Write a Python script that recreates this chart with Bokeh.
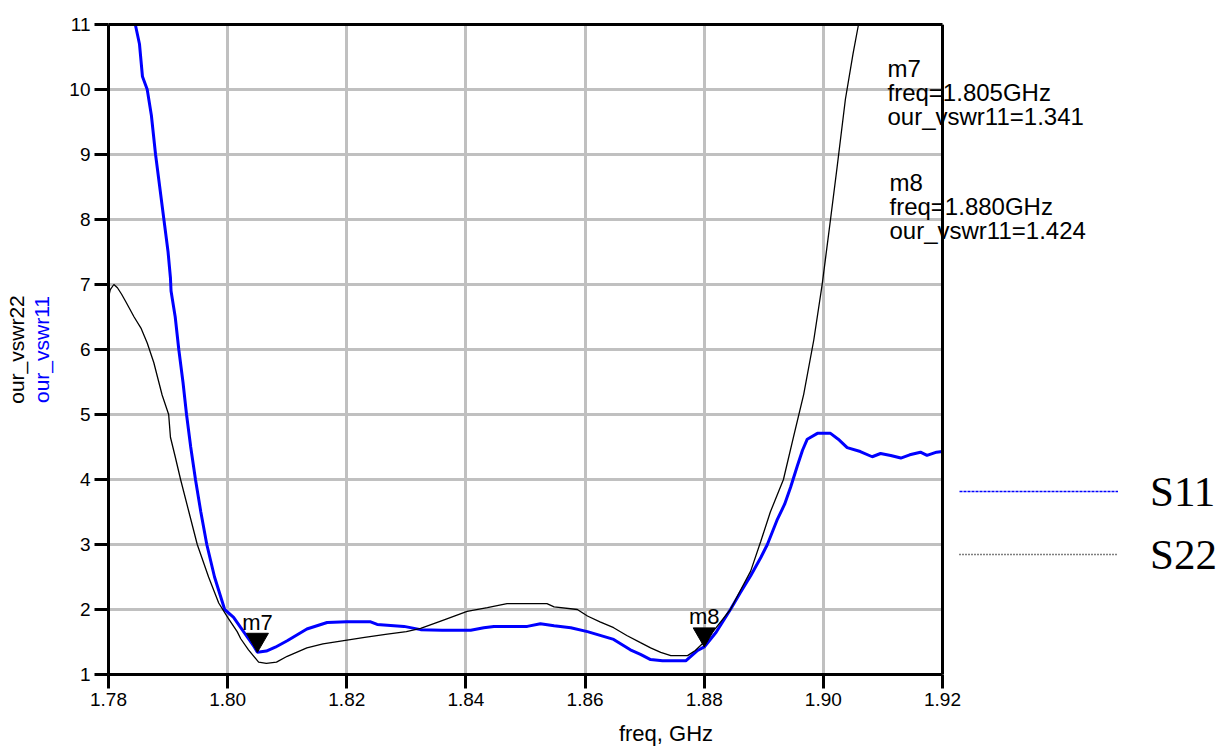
import math
from bokeh.plotting import figure
from bokeh.models import (Range1d, FixedTicker, CustomJSTickFormatter, Label,
                          Legend, LegendItem, LinearAxis, Span)
from bokeh.embed import file_html
from bokeh.resources import INLINE

# ---------------- data ----------------
freq_s11 = [1.7800, 1.7820, 1.7845, 1.7852, 1.7857, 1.7865, 1.7872, 1.7879, 1.7886,
            1.7893, 1.7900, 1.7904, 1.7905, 1.7912, 1.7918, 1.7925, 1.7931, 1.7938,
            1.7946, 1.7955, 1.7965, 1.7978, 1.7995, 1.8010, 1.8022, 1.8035, 1.8045,
            1.8050, 1.8065, 1.8080, 1.8100, 1.8133, 1.8167, 1.8200, 1.8240, 1.8251,
            1.8296, 1.8324, 1.8360, 1.8408, 1.8430, 1.8447, 1.8503, 1.8525, 1.8548,
            1.8576, 1.8604, 1.8648, 1.8676, 1.8693, 1.8710, 1.8730, 1.8769, 1.8789,
            1.8800, 1.8820, 1.8844, 1.8860, 1.8878, 1.8895, 1.8906, 1.8922, 1.8935,
            1.8945, 1.8956, 1.8965, 1.8973, 1.8990, 1.9012, 1.9025, 1.9040, 1.9062,
            1.9082, 1.9096, 1.9113, 1.9130, 1.9145, 1.9163, 1.9174, 1.9190, 1.9200]
vswr11 = [13.3, 12.2, 11.0, 10.7, 10.2, 10.0, 9.6, 9.0, 8.5,
          8.0, 7.5, 7.1, 6.9, 6.5, 6.0, 5.5, 5.0, 4.5,
          4.0, 3.5, 3.0, 2.5, 2.0, 1.88, 1.72, 1.55, 1.42,
          1.341, 1.36, 1.42, 1.52, 1.70, 1.80, 1.81, 1.81, 1.77,
          1.74, 1.69, 1.68, 1.68, 1.72, 1.74, 1.74, 1.78, 1.75,
          1.72, 1.66, 1.54, 1.38, 1.31, 1.23, 1.21, 1.21, 1.37,
          1.424, 1.65, 2.0, 2.25, 2.52, 2.8, 3.0, 3.37, 3.62,
          3.88, 4.2, 4.45, 4.62, 4.71, 4.71, 4.62, 4.49, 4.43,
          4.35, 4.40, 4.37, 4.33, 4.38, 4.42, 4.37, 4.42, 4.43]

freq_s22 = [1.7800, 1.7803, 1.7809, 1.7815, 1.7822, 1.7830, 1.7843, 1.7855, 1.7865,
            1.7876, 1.7883, 1.7890, 1.7901, 1.7904, 1.7912, 1.7921, 1.7935, 1.7949,
            1.7968, 1.7985, 1.8000, 1.8016, 1.8022, 1.8035, 1.8052, 1.8065, 1.8082,
            1.8100, 1.8133, 1.8160, 1.8195, 1.8230, 1.8268, 1.8300, 1.8324, 1.8360,
            1.8402, 1.8436, 1.8469, 1.8536, 1.8548, 1.8587, 1.8604, 1.8625, 1.8648,
            1.8670, 1.8693, 1.8710, 1.8727, 1.8744, 1.8772, 1.8785, 1.8800, 1.8820,
            1.8844, 1.8860, 1.8878, 1.8895, 1.8911, 1.8922, 1.8933, 1.8950, 1.8967,
            1.8984, 1.8998, 1.9012, 1.9023, 1.9037, 1.9050, 1.9059, 1.9070, 1.9080]
vswr22 = [6.80, 6.92, 7.0, 6.95, 6.85, 6.72, 6.5, 6.32, 6.1,
          5.8, 5.55, 5.3, 5.0, 4.65, 4.35, 4.0, 3.5, 3.0,
          2.5, 2.1, 1.88, 1.66, 1.55, 1.38, 1.19, 1.17, 1.19,
          1.28, 1.41, 1.47, 1.52, 1.57, 1.62, 1.66, 1.71, 1.83,
          1.97, 2.03, 2.09, 2.09, 2.04, 2.0, 1.9, 1.81, 1.72,
          1.6, 1.49, 1.41, 1.34, 1.29, 1.29, 1.37, 1.50, 1.72,
          2.0, 2.28, 2.59, 3.05, 3.5, 3.75, 4.0, 4.66, 5.31,
          6.15, 7.0, 8.0, 8.8, 9.85, 10.56, 11.0, 11.6, 12.2]

marker_names = ["m7", "m8"]
marker_freq = [1.805, 1.880]
marker_vswr11 = [1.341, 1.424]

x_ticks = [1.78, 1.80, 1.82, 1.84, 1.86, 1.88, 1.90, 1.92]
x_tick_labels = ["1.78", "1.80", "1.82", "1.84", "1.86", "1.88", "1.90", "1.92"]
y_ticks = [1, 2, 3, 4, 5, 6, 7, 8, 9, 10, 11]
y_tick_labels = ["1", "2", "3", "4", "5", "6", "7", "8", "9", "10", "11"]
legend_labels = ["S11", "S22"]

# ---------------- layout ----------------
W, H = 1223, 749
FL, FR, FT, FB = 108, 942, 24, 674     # plot box (pixels)
X0, X1 = 1.78, 1.92
Y0, Y1 = 1.0, 11.0
PX_PER_X = (FR - FL) / (X1 - X0)
PX_PER_Y = (FB - FT) / (Y1 - Y0)
X_END = X0 + (W - FL) / PX_PER_X       # frame extends to the right canvas edge


def px2x(px):
    return X0 + (px - FL) / PX_PER_X


def px2y(py):
    return Y0 + (FB - py) / PX_PER_Y


FONT = "Liberation Sans"

p = figure(width=W, height=H, x_range=Range1d(X0, X_END), y_range=Range1d(Y0, Y1),
           output_backend="svg", toolbar_location=None, title_location=None,
           min_border_left=FL, min_border_right=0,
           min_border_top=FT, min_border_bottom=H - FB)
p.background_fill_color = "white"
p.border_fill_color = "white"
p.outline_line_color = None

lookup_js = """
let best = 0;
for (let i = 0; i < vals.length; i++) {
  if (Math.abs(vals[i] - tick) < Math.abs(vals[best] - tick)) best = i;
}
return labels[best];
"""
p.xaxis.ticker = FixedTicker(ticks=x_ticks)
p.xaxis.bounds = (X0, X1)
p.xaxis.formatter = CustomJSTickFormatter(args=dict(vals=x_ticks, labels=x_tick_labels), code=lookup_js)
p.yaxis.ticker = FixedTicker(ticks=y_ticks)
p.yaxis.formatter = CustomJSTickFormatter(args=dict(vals=y_ticks, labels=y_tick_labels), code=lookup_js)
for ax in (p.xaxis, p.yaxis):
    ax.axis_line_width = 3
    ax.axis_line_color = "black"
    ax.major_tick_line_width = 3
    ax.major_tick_line_color = "black"
    ax.major_tick_out = 14
    ax.major_tick_in = 0
    ax.minor_tick_line_color = None
    ax.major_label_standoff = 4
    ax.major_label_text_font = FONT
    ax.major_label_text_font_size = "19px"
    ax.major_label_text_color = "black"
    ax.axis_label_text_font = FONT
    ax.axis_label_text_font_style = "normal"

p.xaxis.axis_label = "freq, GHz"
p.xaxis.axis_label_text_font_size = "22px"
p.xaxis.axis_label_standoff = 12
p.xaxis.axis_label_text_color = "black"

p.yaxis.axis_label = "our_vswr11"
p.yaxis.axis_label_text_font_size = "21px"
p.yaxis.axis_label_standoff = 13
p.yaxis.axis_label_text_color = "#0000ff"

outer_y = LinearAxis(ticker=FixedTicker(ticks=[]), axis_line_color=None,
                     major_tick_out=0, major_tick_in=0, minor_tick_line_color=None,
                     major_label_standoff=0, axis_label="our_vswr22",
                     axis_label_standoff=0, axis_label_text_font=FONT,
                     axis_label_text_font_style="normal",
                     axis_label_text_font_size="21px", axis_label_text_color="black")
p.add_layout(outer_y, "left")

top_border = LinearAxis(ticker=FixedTicker(ticks=[]), bounds=(X0, X1),
                        axis_line_width=3, axis_line_color="black",
                        major_tick_out=0, major_tick_in=0, minor_tick_line_color=None,
                        major_label_standoff=0)
p.add_layout(top_border, "above")

# grid
p.xgrid.ticker = FixedTicker(ticks=x_ticks)
p.xgrid.grid_line_color = "#c0c0c0"
p.xgrid.grid_line_width = 3
p.ygrid.grid_line_color = None
p.segment(x0=[X0] * len(y_ticks), x1=[X1] * len(y_ticks), y0=y_ticks, y1=y_ticks,
          line_color="#c0c0c0", line_width=3, level="underlay")

# traces
p.line(freq_s11, vswr11, line_color="#0000ff", line_width=3)
p.line(freq_s22, vswr22, line_color="black", line_width=1.3)

# right border of the plot box
p.add_layout(Span(location=X1, dimension="height", line_color="black", line_width=3))

# markers (inverted triangles with tip on the point)
TRI = 22
tip = TRI * math.sqrt(3) / 2 * 2 / 3
p.scatter(marker_freq, [v + tip / PX_PER_Y for v in marker_vswr11],
          marker="inverted_triangle", size=TRI, fill_color="black", line_color="black")
for name, f, v in zip(marker_names, marker_freq, marker_vswr11):
    p.add_layout(Label(x=f, y=v, text=name, y_offset=30, text_align="center",
                       text_baseline="alphabetic", text_font=FONT,
                       text_font_size="22px", text_color="black"))

# marker readouts
block_top = [68, 182]
block_left = [887, 889]
LINE = 24
for name, f, v, top, left in zip(marker_names, marker_freq, marker_vswr11, block_top, block_left):
    lines = [name, "freq=%.3fGHz" % f, "our_vswr11=%.3f" % v]
    for i, t in enumerate(lines):
        p.add_layout(Label(x=px2x(left), y=px2y(top + i * LINE), text=t,
                           text_align="left", text_baseline="alphabetic",
                           text_font=FONT, text_font_size="24px", text_color="black"))

# legend with dotted sample lines (renderers hold no visible points)
nan = float("nan")
r11 = p.line([nan, nan], [nan, nan], line_color="#0000ff", line_width=1.5, line_dash="3 1")
r22 = p.line([nan, nan], [nan, nan], line_color="black", line_width=1.5, line_dash="1 2")
legend = Legend(items=[LegendItem(label=legend_labels[0], renderers=[r11]),
                       LegendItem(label=legend_labels[1], renderers=[r22])],
                location=(959 - FL, FB - 584), padding=0, margin=0, spacing=3,
                glyph_width=159, glyph_height=60, label_height=60, label_standoff=32,
                label_text_font="Liberation Serif", label_text_font_size="43px",
                label_text_color="black", border_line_color=None,
                background_fill_alpha=0)
p.add_layout(legend)

open("out.html", "w").write(file_html(p, INLINE))
